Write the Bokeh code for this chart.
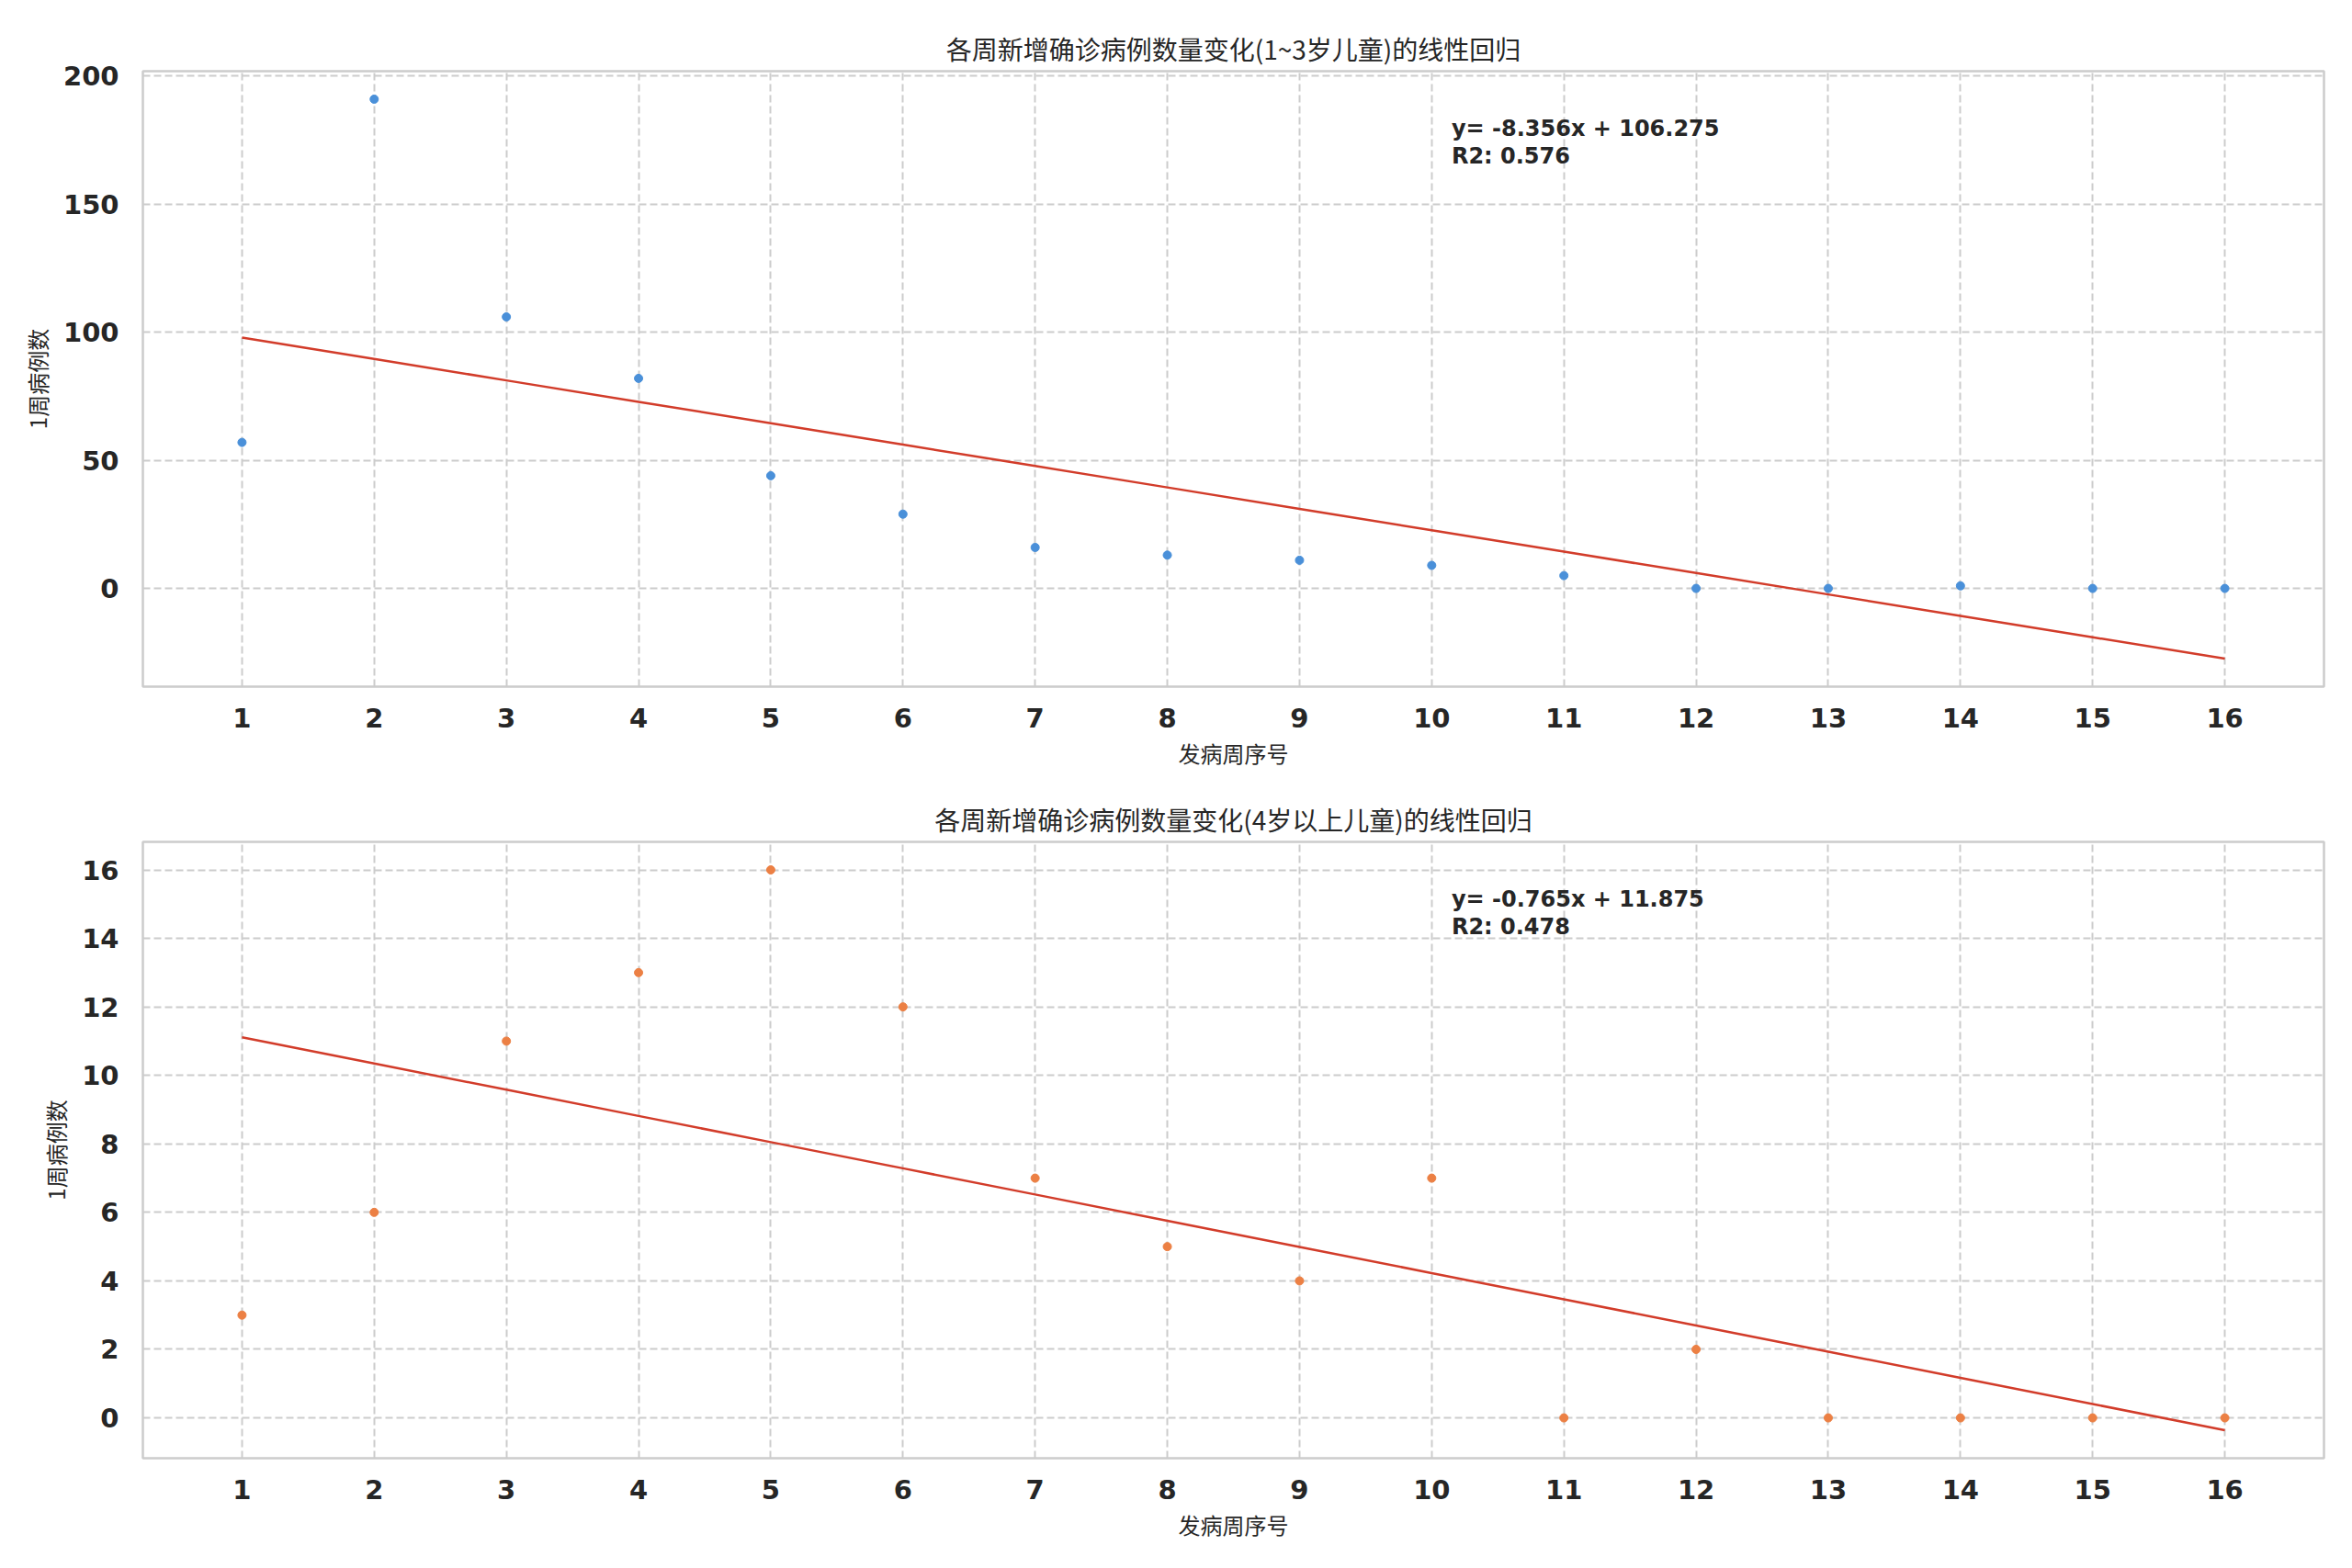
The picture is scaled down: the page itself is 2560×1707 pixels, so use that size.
import numpy as np
from bokeh.plotting import figure
from bokeh.layouts import column
from bokeh.models import Range1d, FixedTicker, SingleIntervalTicker, Label
from bokeh.embed import file_html
from bokeh.resources import INLINE

# ---------------- data ----------------
weeks = list(range(1, 17))
counts_young = [57, 191, 106, 82, 44, 29, 16, 13, 11, 9, 5, 0, 0, 1, 0, 0]
counts_older = [3, 6, 11, 13, 16, 12, 7, 5, 4, 7, 0, 2, 0, 0, 0, 0]

title_young = "各周新增确诊病例数量变化(1~3岁儿童)的线性回归"
title_older = "各周新增确诊病例数量变化(4岁以上儿童)的线性回归"
x_label = "发病周序号"
y_label = "1周病例数"

color_young = "#4a90d9"
color_older = "#ec8044"
color_fit = "#d23c2a"
TXT = "#262626"
GRID = "#cccccc"

CJK = "Noto Sans CJK SC"
LAT = "DejaVu Sans"


def make_panel(x, y, color, title, height, top_border, bottom_border, y_interval):
    x = np.asarray(x, dtype=float)
    y = np.asarray(y, dtype=float)
    slope, intercept = np.polyfit(x, y, 1)
    fit = slope * x + intercept
    ss_res = np.sum((y - fit) ** 2)
    ss_tot = np.sum((y - y.mean()) ** 2)
    r2 = 1 - ss_res / ss_tot

    lo = min(y.min(), fit.min())
    hi = max(y.max(), fit.max())
    pad = 0.05 * (hi - lo)
    ylo, yhi = lo - pad, hi + pad
    xpad = 0.05 * (x.max() - x.min())
    xlo, xhi = x.min() - xpad, x.max() + xpad

    p = figure(width=2544, height=height, output_backend="svg", toolbar_location=None,
               x_range=Range1d(xlo, xhi), y_range=Range1d(ylo, yhi),
               min_border_left=155, min_border_right=15,
               min_border_top=top_border, min_border_bottom=bottom_border)
    p.background_fill_color = "white"
    p.border_fill_color = "white"
    p.outline_line_color = GRID
    p.outline_line_width = 2.5

    p.title.text = title
    p.title.text_font = CJK
    p.title.text_font_size = "28px"
    p.title.text_font_style = "normal"
    p.title.text_color = TXT
    p.title.align = "center"
    p.title.standoff = 10

    p.xaxis.ticker = FixedTicker(ticks=list(x))
    p.yaxis.ticker = SingleIntervalTicker(interval=y_interval)
    for ax in (p.xaxis, p.yaxis):
        ax.axis_line_color = None
        ax.major_tick_line_color = None
        ax.minor_tick_line_color = None
        ax.major_label_text_font = LAT
        ax.major_label_text_font_style = "bold"
        ax.major_label_text_font_size = "29px"
        ax.major_label_text_color = TXT
        ax.axis_label_text_font = CJK
        ax.axis_label_text_font_style = "normal"
        ax.axis_label_text_font_size = "24px"
        ax.axis_label_text_color = TXT
    p.xaxis.major_label_standoff = 17
    p.yaxis.major_label_standoff = 20
    p.xaxis.axis_label = x_label
    p.yaxis.axis_label = y_label
    p.xaxis.axis_label_standoff = 7
    p.yaxis.axis_label_standoff = 8

    for g in (p.xgrid, p.ygrid):
        g.grid_line_color = GRID
        g.grid_line_width = 2
        g.grid_line_dash = "8 4"

    p.line(x, fit, line_color=color_fit, line_width=2.5)
    p.scatter(x, y, size=9, fill_color=color, line_color=color)

    lx = xlo + 0.6 * (xhi - xlo)
    ly1 = yhi - 0.072 * (yhi - ylo)
    ly2 = yhi - 0.117 * (yhi - ylo)
    for txt, ly in ((f"y= {slope:.3f}x + {intercept:.3f}", ly1), (f"R2: {r2:.3f}", ly2)):
        p.add_layout(Label(x=lx, y=ly, text=txt, text_font=LAT, text_font_style="bold",
                           text_font_size="24px", text_color=TXT, text_baseline="top",
                           text_align="left"))
    return p


p1 = make_panel(weeks, counts_young, color_young, title_young, 849, 77, 102, 50)
p2 = make_panel(weeks, counts_older, color_older, title_older, 840, 67, 102, 2)

layout = column(p1, p2, spacing=0)
open("out.html", "w").write(file_html(layout, INLINE))
